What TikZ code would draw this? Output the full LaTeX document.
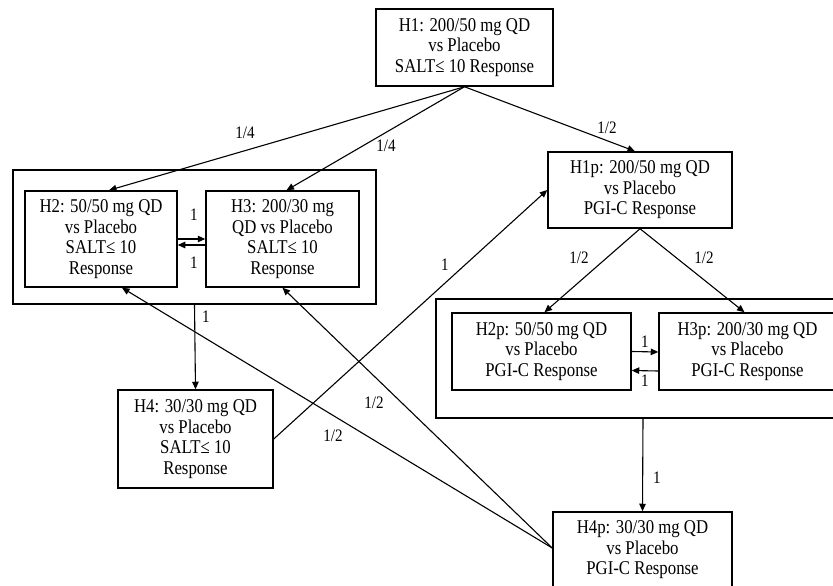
\documentclass[tikz,border=0pt]{standalone}
\usepackage{fontspec}
\setmainfont{Liberation Serif}[FakeStretch=0.86]
\usetikzlibrary{arrows.meta}
\begin{document}
\begin{tikzpicture}[x=1pt,y=-1pt,
 box/.style={draw, line width=1.5pt, align=center, inner sep=0pt, font=\fontsize{19.5}{20.5}\selectfont},
 grp/.style={draw, line width=1.5pt, inner sep=0pt},
 arr/.style={line width=1.1pt, -{Triangle[length=7.5pt,width=6.5pt]}},
 lbl/.style={font=\fontsize{17.5}{18}\selectfont, inner sep=0pt}]
\useasboundingbox (0,0) rectangle (833,586);
% group boxes
\node[grp, minimum width=363pt, minimum height=134pt] (G1) at (194.5,237) {};
\node[grp, minimum width=414pt, minimum height=119pt] (G2) at (643,358.5) {};
% hypothesis boxes
\node[box, minimum width=177pt, minimum height=77pt] (H1) at (464.5,47.5) {H1: 200/50 mg QD\\vs Placebo\\SALT≤ 10 Response};
\node[box, minimum width=184pt, minimum height=76pt] (H1p) at (640,190) {H1p: 200/50 mg QD\\vs Placebo\\PGI-C Response};
\node[box, minimum width=152pt, minimum height=96pt] (H2) at (101,239) {H2: 50/50 mg QD\\vs Placebo\\SALT≤ 10\\Response};
\node[box, minimum width=153pt, minimum height=96pt] (H3) at (282.5,239) {H3: 200/30 mg\\QD vs Placebo\\SALT≤ 10\\Response};
\node[box, minimum width=155pt, minimum height=98pt] (H4) at (195.5,439) {H4: 30/30 mg QD\\vs Placebo\\SALT≤ 10\\Response};
\node[box, minimum width=179pt, minimum height=77pt] (H2p) at (541.5,351.5) {H2p: 50/50 mg QD\\vs Placebo\\PGI-C Response};
\node[box, minimum width=177pt, minimum height=77pt] (H3p) at (747.5,351.5) {H3p: 200/30 mg QD\\vs Placebo\\PGI-C Response};
\node[box, minimum width=179pt, minimum height=76pt] (H4p) at (642.5,550) {H4p: 30/30 mg QD\\vs Placebo\\PGI-C Response};
% connectors
\draw[arr] (H1.south) -- ([xshift=8pt]H2.north);
\draw[arr] (H1.south) -- ([xshift=4pt]H3.north);
\draw[arr] (H1.south) -- ([xshift=-5pt]H1p.north);
\draw[arr] (H1p.south) -- ([xshift=3pt]H2p.north);
\draw[arr] (H1p.south) -- ([xshift=-3pt]H3p.north);
\draw[arr] (H2.east) -- (H3.west);
\draw[arr] ([yshift=-6pt]H3.west) -- ([yshift=-6pt]H2.east);
\draw[arr] (H2p.east) -- ([yshift=-0.5pt]H3p.west);
\draw[arr] ([yshift=-19.5pt]H3p.west) -- ([yshift=-19pt]H2p.east);
\draw[arr] (G1.south) -- (H4.north);
\draw[arr] (G2.south) -- (H4p.north);
\draw[arr] (H4.east) -- (H1p.west);
\draw[arr] ([yshift=2pt]H4p.west) -- ([xshift=21pt]H2.south);
\draw[arr] ([yshift=2pt]H4p.west) -- (H3.south);
% labels
\node[lbl] (l1) at (245,133) {1/4};
\node[lbl] (l2) at (386,146) {1/4};
\node[lbl] (l3) at (607,128) {1/2};
\node[lbl] (l4) at (194,215) {1};
\node[lbl] (l5) at (194,263) {1};
\node[lbl] (l6) at (206,317) {1};
\node[lbl] (l7) at (445,265) {1};
\node[lbl] (l8) at (579,258) {1/2};
\node[lbl] (l9) at (704,258) {1/2};
\node[lbl] (l10) at (645,342) {1};
\node[lbl] (l11) at (645,381) {1};
\node[lbl] (l12) at (657,478) {1};
\node[lbl] (l13) at (333,436) {1/2};
\node[lbl] (l14) at (374,403) {1/2};
\end{tikzpicture}
\end{document}
